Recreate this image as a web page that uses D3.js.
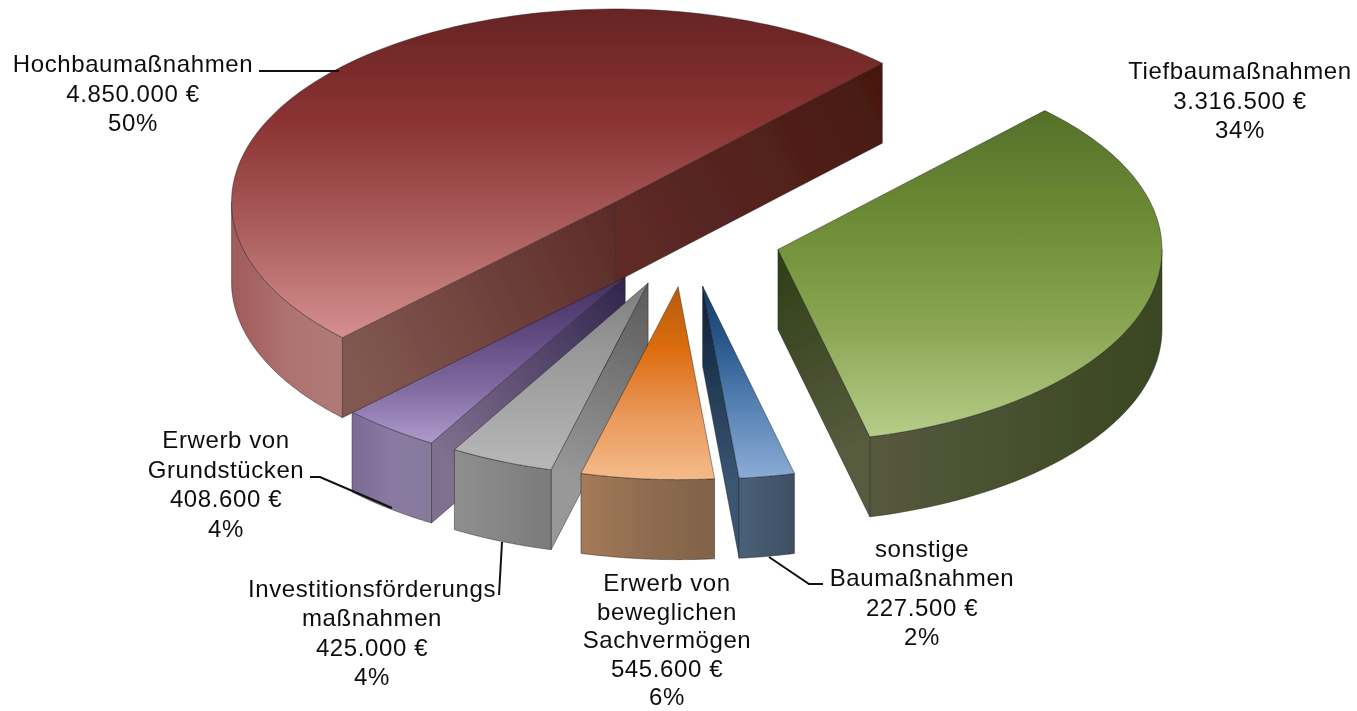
<!DOCTYPE html>
<html>
<head>
<meta charset="utf-8">
<script src="https://cdn.jsdelivr.net/npm/d3@7"></script>
<style>
  html, body { margin: 0; padding: 0; background: #fff; }
  svg { display: block; }
  text { font-family: "Liberation Sans", Arial, sans-serif; font-size: 24px; letter-spacing: 0.6px; fill: #111; text-anchor: middle; }
</style>
</head>
<body>
<div id="chart"></div>
<script>
// order = clockwise from the first slice edge
var names = ["Tiefbau", "Sonstige", "Beweglich", "Invest", "Grund", "Hochbau"];
var values = [3316500, 227500, 545600, 425000, 408600, 4850000];
var labelLines = [
    ["Tiefbaumaßnahmen"],
    ["sonstige", "Baumaßnahmen"],
    ["Erwerb von", "beweglichen", "Sachvermögen"],
    ["Investitionsförderungs", "maßnahmen"],
    ["Erwerb von", "Grundstücken"],
    ["Hochbaumaßnahmen"]
];

// layout, not data
var width = 1357, height = 711;
var cx = 686, cy = 237, rx = 384, ry = 193, depth = 80;
var explode = [0.248, 0.258, 0.258, 0.258, 0.258, 0.258];
var firstAngle = 44 * Math.PI / 180;
var drawOrder = [4, 5, 3, 2, 1, 0];   // back to front

// label centre x, first baseline, line spacing
var labelPos = [
    {x: 1240, y: 79, dy: 29.5},
    {x: 922, y: 557, dy: 29.3},
    {x: 667, y: 591, dy: 28.5},
    {x: 372, y: 597, dy: 29.3},
    {x: 226, y: 448, dy: 29.6},
    {x: 133, y: 72, dy: 29.5}
];
var leaders = [
    null,
    [[769, 557], [809, 584], [823, 584]],
    null,
    [[502, 542], [499, 595]],
    [[310, 477], [320, 477], [392, 508]],
    [[259, 71], [339, 71]]
];

// colour stops
var topColors = [
    ["#55702b", "#6d8c35", "#8aa653", "#b5cd88"],
    ["#123a66", "#2f5e92", "#5c87b8", "#8aabd6"],
    ["#b85c08", "#dd6d10", "#e9985a", "#f5bb8a"],
    ["#7c7c7c", "#969696", "#a6a6a6", "#b8b8b8"],
    ["#43305f", "#5e4880", "#806aa0", "#ae9acb"],
    ["#672424", "#8a3232", "#ab5d5d", "#d48f8e"]
];
// left to right
var wallColors = [
    ["#56593e", "#47502f", "#3a4620"],
    ["#4a6079", "#3f4f63"],
    ["#a57a58", "#8f6c50", "#806247"],
    ["#8f8f8f", "#858585", "#7b7b7b"],
    ["#7b6a96", "#8a7aa3", "#877a9a"],
    ["#a05a5a", "#ad7270", "#b07a77"]
];
// from the apex to the outer corner
var cutColors = [
    [null, null, "#2f3d15", "#565b3e"],
    [null, null, "#0d2036", "#3a5472"],
    [null, null, null, null],
    ["#5a5a5a", "#989898", null, null],
    ["#31244c", "#80708f", null, null],
    ["#5c2a28", "#81584f", "#5e2a28", "#47180f"]
];

var total = d3.sum(values);
var de = d3.formatLocale({decimal: ",", thousands: ".", grouping: [3], currency: ["", " €"]});
var euro = de.format(",d");

var svg = d3.select("#chart")
    .append("svg")
        .attr("width", width)
        .attr("height", height);

var defs = svg.append("defs");
defs.append("filter").attr("id", "soft")
    .append("feGaussianBlur").attr("stdDeviation", 0.45);

var x = d3.scaleLinear().domain([-1, 1]).range([cx - rx, cx + rx]);
var y = d3.scaleLinear().domain([-1, 1]).range([cy + ry, cy - ry]);

var pie = d3.pie()
    .sort(null)
    .value(function(d) { return d; })
    .startAngle(firstAngle)
    .endAngle(firstAngle + 2 * Math.PI);

var slices = pie(values);

var line = d3.line();

function gradient(id, x1, y1, x2, y2, colors) {
    var g = defs.append("linearGradient")
        .attr("id", id)
        .attr("gradientUnits", "userSpaceOnUse")
        .attr("x1", x1).attr("y1", y1)
        .attr("x2", x2).attr("y2", y2);
    colors.forEach(function(c, i) {
        g.append("stop")
            .attr("offset", i / (colors.length - 1))
            .attr("stop-color", c);
    });
    return "url(#" + id + ")";
}

function drawFace(g, points, fill) {
    g.append("path")
        .attr("d", line(points) + "Z")
        .attr("fill", fill)
        .attr("stroke", "#1a1a1a")
        .attr("stroke-opacity", 0.55)
        .attr("stroke-width", 0.8)
        .attr("stroke-linejoin", "round");
}

function drawSlice(i) {
    var s = slices[i];
    var a0 = s.startAngle, a1 = s.endAngle;
    var mid = (a0 + a1) / 2;
    var ex = explode[i];

    // apex moved out along the middle of the slice
    var px = function(a, r) { return x(ex * Math.sin(mid) + r * Math.sin(a)); };
    var py = function(a, r) { return y(ex * Math.cos(mid) + r * Math.cos(a)); };
    var apex = [px(0, 0), py(0, 0)];

    var g = svg.append("g")
        .attr("class", "slice " + names[i])
        .attr("filter", "url(#soft)");

    // side cuts
    [[a0, 0, Math.sin(a0) < 0], [a1, 2, Math.sin(a1) > 0]].forEach(function(c) {
        if (!c[2]) return;
        var corner = [px(c[0], 1), py(c[0], 1)];
        var cols = cutColors[i].slice(c[1], c[1] + 2);
        drawFace(g, [apex, corner, [corner[0], corner[1] + depth], [apex[0], apex[1] + depth]],
            gradient("cut" + i + "_" + c[1], apex[0], apex[1], corner[0], corner[1], cols));
    });

    // outer wall, only the part that faces us
    var from = Math.max(a0, Math.PI / 2), to = Math.min(a1, 1.5 * Math.PI);
    if (to > from) {
        var angles = d3.range(0, 61).map(function(k) { return from + (to - from) * k / 60; });
        var upper = angles.map(function(a) { return [px(a, 1), py(a, 1)]; });
        var lower = upper.map(function(p) { return [p[0], p[1] + depth]; }).reverse();
        var ext = d3.extent(upper, function(p) { return p[0]; });
        drawFace(g, upper.concat(lower),
            gradient("wall" + i, ext[0], 0, ext[1], 0, wallColors[i]));
    }

    // top face
    var arcPts = d3.range(0, 121).map(function(k) {
        var a = a0 + (a1 - a0) * k / 120;
        return [px(a, 1), py(a, 1)];
    });
    var topPts = [apex].concat(arcPts);
    var yExt = d3.extent(topPts, function(p) { return p[1]; });
    drawFace(g, topPts, gradient("top" + i, 0, yExt[0], 0, yExt[1], topColors[i]));
}

drawOrder.forEach(drawSlice);

// leader lines
svg.selectAll("path.leader")
    .data(leaders.filter(function(d) { return d; }))
    .enter().append("path")
    .attr("class", "leader")
    .attr("d", function(d) { return line(d); })
    .attr("fill", "none")
    .attr("stroke", "#111")
    .attr("stroke-width", 2);

// labels
var labels = svg.selectAll("g.label")
    .data(values)
    .enter().append("g")
    .attr("class", "label")
    .attr("filter", "url(#soft)");

labels.each(function(v, i) {
    var lines = labelLines[i].concat([euro(v) + " €", Math.round(v / total * 100) + "%"]);
    d3.select(this).selectAll("text")
        .data(lines)
        .enter().append("text")
        .attr("x", labelPos[i].x)
        .attr("y", function(d, k) { return labelPos[i].y + k * labelPos[i].dy; })
        .text(function(d) { return d; });
});
</script>
</body>
</html>
